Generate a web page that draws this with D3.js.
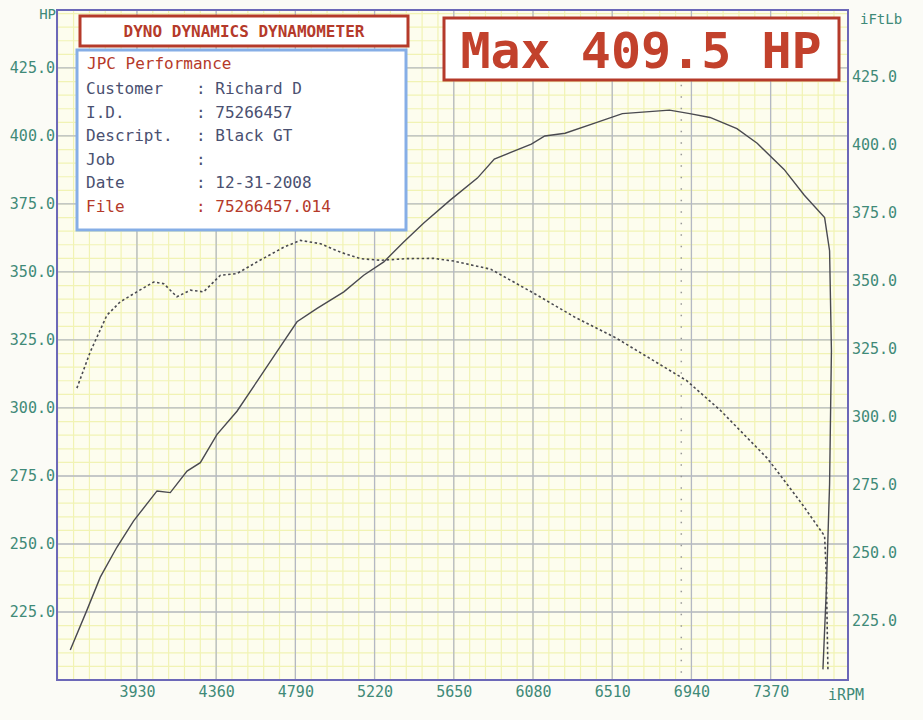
<!DOCTYPE html>
<html>
<head>
<meta charset="utf-8">
<script src="https://cdn.jsdelivr.net/npm/d3@7"></script>
<style>
  body { margin: 0; background: #fbfbf6; }
  text { font-family: "DejaVu Sans Mono", "Liberation Mono", monospace; }
</style>
</head>
<body>
<script>
// Data
const rpmTicks = [3930, 4360, 4790, 5220, 5650, 6080, 6510, 6940, 7370];
const powerTicks = [225, 250, 275, 300, 325, 350, 375, 400, 425];

const hpRpm = [3568, 3658, 3731, 3821, 3912, 4039, 4111, 4202, 4274, 4364, 4473, 4582, 4690, 4799, 4908, 5053, 5161, 5270, 5378, 5487,
  5632, 5778, 5870, 6071, 6144, 6254, 6419, 6565, 6821, 6931, 7041, 7187, 7297, 7443, 7553, 7663, 7690, 7700, 7690, 7672, 7654];
const hpVal = [211.0, 225.6, 237.8, 248.8, 258.5, 269.5, 268.9, 276.8, 279.9, 290.2, 298.8, 309.8, 320.7, 331.7, 336.6, 342.7, 348.8, 353.7, 361.0, 368.0,
  376.5, 384.5, 391.5, 397.0, 400.0, 401.0, 404.8, 408.2, 409.5, 408.2, 406.8, 402.7, 397.3, 387.7, 378.2, 370.0, 357.8, 321.0, 272.0, 232.5, 203.9];

const tqRpm = [3604, 3677, 3767, 3839, 3930, 4021, 4075, 4147, 4220, 4292, 4383, 4473, 4582, 4727, 4817, 4926, 5034, 5143, 5252, 5397, 5541,
  5650, 5851, 6089, 6309, 6529, 6913, 7096, 7352, 7535, 7663, 7672, 7681];
const tqVal = [307.3, 320.7, 334.1, 339.0, 342.7, 346.3, 345.7, 340.9, 343.3, 342.7, 348.8, 349.4, 353.7, 359.1, 361.6, 360.4, 357.3, 354.9, 354.3, 354.9, 355.0,
  354.0, 351.0, 342.0, 333.3, 325.8, 310.1, 299.2, 281.5, 265.2, 252.9, 239.3, 203.9];

const peakRpm = 6885;
const maxHp = "409.5";
const infoRows = [
  ["Customer", "Richard D"],
  ["I.D.", "75266457"],
  ["Descript.", "Black GT"],
  ["Job", ""],
  ["Date", "12-31-2008"],
  ["File", "75266457.014"]
];

const W = 923, H = 720;
const m = { left: 57, right: 848, top: 10, bottom: 680 };

const svg = d3.select("body").append("svg").attr("width", W).attr("height", H);

const x = d3.scaleLinear().domain([3496, 7790]).range([m.left, m.right]);
const y = d3.scaleLinear().domain([200, 446.3]).range([m.bottom, m.top]);

// plot background
svg.append("rect").attr("x", m.left).attr("y", m.top)
  .attr("width", m.right - m.left).attr("height", m.bottom - m.top)
  .attr("fill", "#fdfdee");

// minor yellow grid
const minorX = d3.range(3930 - 430, 7790, 86);
const minorY = d3.range(200, 446, 5);
svg.append("g").selectAll("line").data(minorX.filter(v => v > 3496)).join("line")
  .attr("x1", d => x(d)).attr("x2", d => x(d)).attr("y1", m.top).attr("y2", m.bottom)
  .attr("stroke", "#f1f3b4").attr("stroke-width", 1.2);
svg.append("g").selectAll("line").data(minorY).join("line")
  .attr("x1", m.left).attr("x2", m.right).attr("y1", d => y(d)).attr("y2", d => y(d))
  .attr("stroke", "#f1f3b4").attr("stroke-width", 1.2);

// major gray grid
svg.append("g").selectAll("line").data(rpmTicks).join("line")
  .attr("x1", d => x(d)).attr("x2", d => x(d)).attr("y1", m.top).attr("y2", m.bottom)
  .attr("stroke", "#b4b8c4").attr("stroke-width", 1.3);
svg.append("g").selectAll("line").data(powerTicks).join("line")
  .attr("x1", m.left).attr("x2", m.right).attr("y1", d => y(d)).attr("y2", d => y(d))
  .attr("stroke", "#b4b8c4").attr("stroke-width", 1.3);

// peak rpm marker
svg.append("line").attr("x1", x(peakRpm)).attr("x2", x(peakRpm))
  .attr("y1", y(440)).attr("y2", m.bottom)
  .attr("stroke", "#999").attr("stroke-width", 1.5).attr("stroke-dasharray", "1.5,10");

// curves
const line = d3.line().x(d => x(d[0])).y(d => y(d[1]));
svg.append("path").datum(d3.zip(hpRpm, hpVal)).attr("d", line)
  .attr("fill", "none").attr("stroke", "#4a4a50").attr("stroke-width", 1.4);
svg.append("path").datum(d3.zip(tqRpm, tqVal)).attr("d", line)
  .attr("fill", "none").attr("stroke", "#4a4a50").attr("stroke-width", 1.6)
  .attr("stroke-dasharray", "2.5,2.5");

// border
svg.append("rect").attr("x", m.left).attr("y", m.top)
  .attr("width", m.right - m.left).attr("height", m.bottom - m.top)
  .attr("fill", "none").attr("stroke", "#6c68b8").attr("stroke-width", 2);

// axes (labels only)
const tickFmt = d3.format(".1f");
const axisColor = "#3f8a78";
const yLeft = svg.append("g").attr("transform", `translate(${m.left},0)`)
  .call(d3.axisLeft(y).tickValues(powerTicks).tickFormat(tickFmt).tickSize(0).tickPadding(2));
const yRight = svg.append("g").attr("transform", `translate(${m.right},0)`)
  .call(d3.axisRight(y).tickValues(powerTicks).tickFormat(tickFmt).tickSize(0).tickPadding(4));
const xAxis = svg.append("g").attr("transform", `translate(0,${m.bottom})`)
  .call(d3.axisBottom(x).tickValues(rpmTicks).tickFormat(d3.format("d")).tickSize(0).tickPadding(6));
[yLeft, yRight, xAxis].forEach(g => {
  g.select(".domain").remove();
  g.selectAll("text").attr("fill", axisColor).style("font-size", "15px")
    .style("font-family", "'DejaVu Sans Mono', monospace");
});
yRight.selectAll("text").attr("dy", "0.9em");

svg.append("text").attr("x", 56).attr("y", 19).attr("text-anchor", "end")
  .attr("fill", axisColor).style("font-size", "14px").text("HP");
svg.append("text").attr("x", 860).attr("y", 24)
  .attr("fill", axisColor).style("font-size", "14px").text("iFtLb");
svg.append("text").attr("x", 828).attr("y", 700)
  .attr("fill", axisColor).style("font-size", "15px").text("iRPM");

// info panel
const red = "#b53a2a";
svg.append("rect").attr("x", 80).attr("y", 16).attr("width", 328).attr("height", 30)
  .attr("fill", "#fff").attr("stroke", red).attr("stroke-width", 3);
svg.append("text").attr("x", 244).attr("y", 37).attr("text-anchor", "middle")
  .attr("fill", red).style("font-size", "16px").style("font-weight", "bold")
  .text("DYNO DYNAMICS DYNAMOMETER");

svg.append("rect").attr("x", 77).attr("y", 50).attr("width", 329).attr("height", 180)
  .attr("fill", "#fff").attr("stroke", "#86aee6").attr("stroke-width", 3);
svg.append("text").attr("x", 87).attr("y", 69).attr("fill", red)
  .style("font-size", "16px").text("JPC Performance");
const rows = svg.append("g").selectAll("g").data(infoRows).join("g")
  .attr("transform", (d, i) => `translate(0,${94 + i * 23.6})`);
rows.append("text").attr("x", 86).attr("fill", (d, i) => i === 5 ? red : "#4a5070")
  .style("font-size", "16px").text(d => d[0]);
rows.append("text").attr("x", 196).attr("fill", (d, i) => i === 5 ? red : "#4a5070")
  .style("font-size", "16px").text(d => ": " + d[1]);

// max box
svg.append("rect").attr("x", 444).attr("y", 18).attr("width", 395).attr("height", 62)
  .attr("fill", "#fff").attr("stroke", red).attr("stroke-width", 3);
svg.append("text").attr("x", 641).attr("y", 68).attr("text-anchor", "middle")
  .attr("fill", "#c2412c").style("font-size", "50px").style("font-weight", "bold")
  .text(`Max ${maxHp} HP`);
</script>
</body>
</html>
